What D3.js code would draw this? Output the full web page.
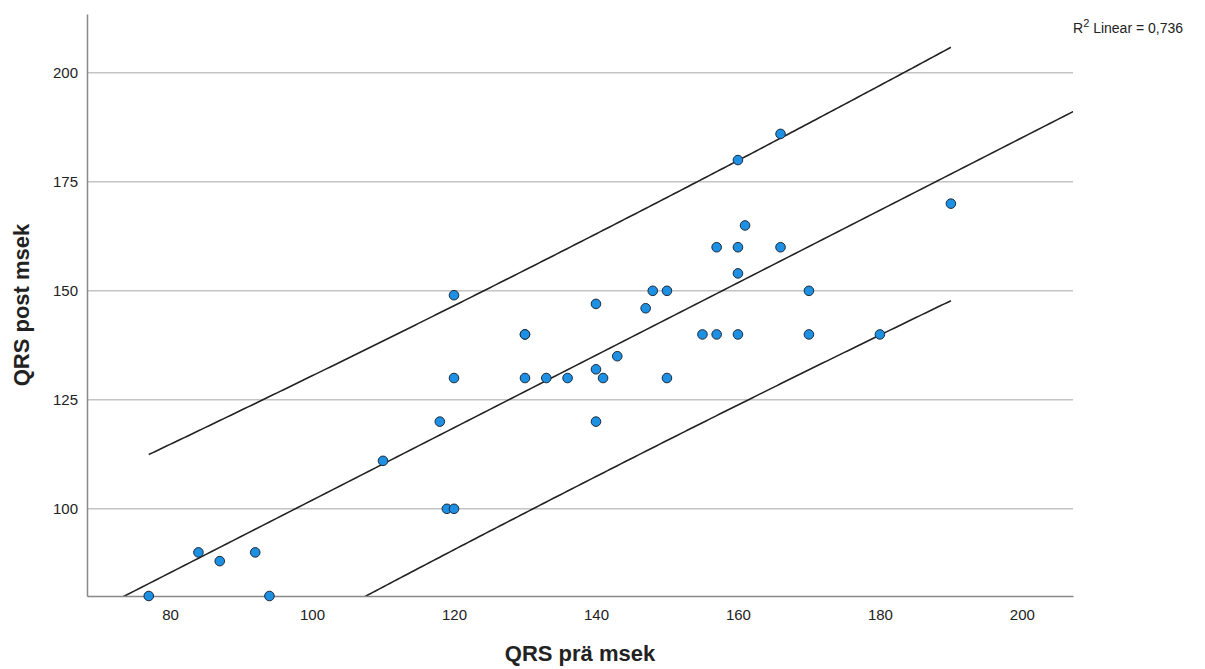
<!DOCTYPE html>
<html>
<head>
<meta charset="utf-8">
<script src="https://cdn.jsdelivr.net/npm/d3@7"></script>
<style>
  body { margin: 0; background: #fff; }
  text { font-family: Arial, "Liberation Sans", sans-serif; }
</style>
</head>
<body>
<svg id="chart" width="1205" height="669"></svg>
<script>
// QRS prä (x) and QRS post (y), msek
var qrsPre  = [77, 84, 87, 92, 94, 110, 118, 119, 120, 120, 120, 130, 130, 130, 133, 136, 140, 140, 140, 141, 143, 147, 148, 150, 150, 155, 157, 157, 160, 160, 160, 160, 161, 166, 166, 170, 170, 180, 190]
var qrsPost = [80, 90, 88, 90, 80, 111, 120, 100, 100, 149, 130, 140, 140, 130, 130, 130, 147, 132, 120, 130, 135, 146, 150, 150, 130, 140, 160, 140, 180, 160, 154, 140, 165, 186, 160, 150, 140, 140, 170]
var xTicks = [80, 100, 120, 140, 160, 180, 200]
var yTicks = [100, 125, 150, 175, 200]
var r2Label = "0,736"

var dimensions = {
    width: 1205,
    height: 669,
    margin: { top: 14, bottom: 73, left: 87, right: 132 }
}

var dataset = qrsPre.map((d, i) => ({ pre: d, post: qrsPost[i] }))

var svg = d3.select("#chart")

var xScale = d3.scaleLinear()
               .domain([68.3, 207.2])
               .range([dimensions.margin.left, dimensions.width - dimensions.margin.right])
var yScale = d3.scaleLinear()
               .domain([80, 213.5])
               .range([dimensions.height - dimensions.margin.bottom, dimensions.margin.top])

// least squares fit + individual prediction interval (95%)
var n = dataset.length
var mx = d3.mean(dataset, d => d.pre)
var my = d3.mean(dataset, d => d.post)
var sxx = d3.sum(dataset, d => (d.pre - mx) ** 2)
var sxy = d3.sum(dataset, d => (d.pre - mx) * (d.post - my))
var slope = sxy / sxx
var intercept = my - slope * mx
var sse = d3.sum(dataset, d => (d.post - intercept - slope * d.pre) ** 2)
var se = Math.sqrt(sse / (n - 2))
var tval = 2.026
var fit = x => intercept + slope * x
var band = x => tval * se * Math.sqrt(1 + 1 / n + (x - mx) ** 2 / sxx)

// grid
svg.append("g")
   .selectAll("line")
   .data(yTicks)
   .enter()
   .append("line")
   .attr("x1", xScale.range()[0])
   .attr("x2", xScale.range()[1])
   .attr("y1", d => yScale(d))
   .attr("y2", d => yScale(d))
   .attr("stroke", "#c4c4c4")
   .attr("stroke-width", 1.5)

// regression lines, clipped to plot
svg.append("clipPath").attr("id", "clip")
   .append("rect")
   .attr("x", xScale.range()[0])
   .attr("y", yScale.range()[1])
   .attr("width", xScale.range()[1] - xScale.range()[0])
   .attr("height", yScale.range()[0] - yScale.range()[1])

var lines = svg.append("g").attr("clip-path", "url(#clip)")
var lineGen = d3.line().x(d => xScale(d[0])).y(d => yScale(d[1]))
var xFull = d3.range(60, 215, 1)
var xData = d3.range(d3.min(qrsPre), d3.max(qrsPre) + 0.5, 0.5)

lines.append("path")
     .attr("d", lineGen(xFull.map(x => [x, fit(x)])))
lines.append("path")
     .attr("d", lineGen(xData.map(x => [x, fit(x) + band(x)])))
lines.append("path")
     .attr("d", lineGen(xData.map(x => [x, fit(x) - band(x)])))
lines.selectAll("path")
     .attr("fill", "none")
     .attr("stroke", "#222")
     .attr("stroke-width", 1.6)

// axes
var xAxisGen = d3.axisBottom(xScale).tickValues(xTicks).tickSize(0).tickPadding(13)
var xAxis = svg.append("g")
               .attr("transform", `translate(0,${yScale.range()[0]})`)
               .call(xAxisGen)
var yAxisGen = d3.axisLeft(yScale).tickValues(yTicks).tickSize(0).tickPadding(9)
var yAxis = svg.append("g")
               .attr("transform", `translate(${xScale.range()[0]},0)`)
               .call(yAxisGen)
svg.selectAll(".domain").attr("stroke", "#888").attr("stroke-width", 1.5)
svg.selectAll(".tick text").style("font-size", "15px").attr("fill", "#222")

// points
svg.append("g")
   .selectAll("circle")
   .data(dataset)
   .enter()
   .append("circle")
   .attr("cx", d => xScale(d.pre))
   .attr("cy", d => yScale(d.post))
   .attr("r", 4.8)
   .attr("fill", "#1e90e4")
   .attr("stroke", "#1a2a3a")
   .attr("stroke-width", 1)

// titles
svg.append("text")
   .attr("x", (xScale.range()[0] + xScale.range()[1]) / 2)
   .attr("y", 661)
   .attr("text-anchor", "middle")
   .style("font-size", "22px")
   .style("font-weight", "bold")
   .attr("fill", "#222")
   .text("QRS prä msek")

svg.append("text")
   .attr("transform", `translate(29,${(yScale.range()[0] + yScale.range()[1]) / 2}) rotate(-90)`)
   .attr("text-anchor", "middle")
   .style("font-size", "22px")
   .style("font-weight", "bold")
   .attr("fill", "#222")
   .text("QRS post msek")

var r2 = svg.append("text")
   .attr("x", 1073)
   .attr("y", 33)
   .style("font-size", "14px")
   .attr("fill", "#222")
r2.append("tspan").text("R")
r2.append("tspan").attr("dy", -6).style("font-size", "11px").text("2")
r2.append("tspan").attr("dy", 6).text(" Linear = " + r2Label)
</script>
</body>
</html>
